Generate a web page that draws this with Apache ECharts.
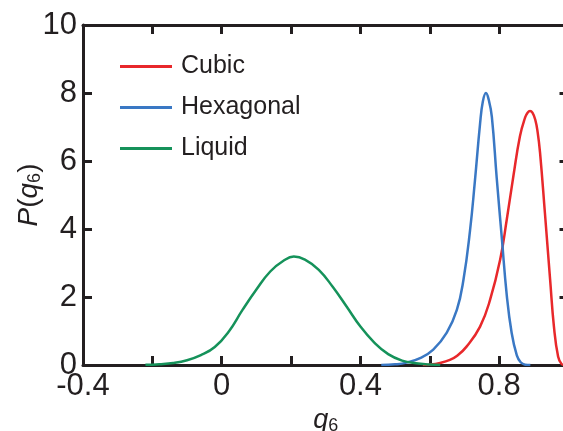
<!DOCTYPE html>
<html>
<head>
<meta charset="utf-8">
<script src="https://cdn.jsdelivr.net/npm/echarts@6/dist/echarts.min.js"></script>
<style>html,body{margin:0;padding:0;background:#fff;overflow:hidden;}#c{width:563px;height:431px;}</style>
</head>
<body>
<div id="c"></div>
<script>
// Data
const seriesNames = ['Cubic', 'Hexagonal', 'Liquid'];
const cubic = [
  [0.58, 0], [0.60, 0.01], [0.63, 0.06], [0.658, 0.15], [0.68, 0.28], [0.706, 0.54],
  [0.745, 1.13], [0.774, 1.92], [0.803, 3.1], [0.822, 4.28], [0.841, 5.55], [0.86, 6.73],
  [0.875, 7.28], [0.882, 7.42], [0.889, 7.47], [0.896, 7.42], [0.904, 7.22], [0.911, 6.85],
  [0.918, 6.24], [0.932, 4.47], [0.947, 2.51], [0.958, 1.13], [0.97, 0.25], [0.98, 0.03], [0.99, 0]
];
const hexagonal = [
  [0.46, 0], [0.5, 0.02], [0.533, 0.07], [0.572, 0.2], [0.61, 0.45], [0.649, 0.95],
  [0.678, 1.62], [0.697, 2.5], [0.716, 3.95], [0.73, 5.4], [0.745, 7.1], [0.753, 7.75],
  [0.762, 8.0], [0.77, 7.8], [0.779, 7.3], [0.793, 5.5], [0.808, 3.7], [0.822, 2.05],
  [0.836, 0.95], [0.851, 0.28], [0.862, 0.08], [0.875, 0.01], [0.89, 0]
];
const liquid = [
  [-0.22, 0.005], [-0.18, 0.025], [-0.14, 0.06], [-0.10, 0.14], [-0.06, 0.29], [-0.02, 0.53],
  [0.02, 0.98], [0.06, 1.62], [0.10, 2.22], [0.14, 2.75], [0.18, 3.08], [0.208, 3.19],
  [0.24, 3.1], [0.28, 2.8], [0.32, 2.3], [0.36, 1.72], [0.40, 1.13], [0.44, 0.66],
  [0.48, 0.32], [0.52, 0.13], [0.56, 0.05], [0.60, 0.015], [0.63, 0]
];
const xTickLabels = ['-0.4', '0', '0.4', '0.8'];
const yTickLabels = ['0', '2', '4', '6', '8', '10'];

const colors = ['#e8282b', '#3a78c4', '#15925a'];
const ink = '#231f20';
const fontFamily = 'Liberation Sans, Arial, sans-serif';

function xLabel(v) {
  const s = (Math.round(v * 10) / 10).toString();
  return xTickLabels.indexOf(s) >= 0 ? s : '';
}
function yLabel(v) {
  const s = String(Math.round(v));
  return yTickLabels.indexOf(s) >= 0 ? s : '';
}

const axisLine = { show: true, onZero: false, lineStyle: { color: ink, width: 3 } };
const axisTick = { show: true, inside: true, length: 9, lineStyle: { color: ink, width: 3 } };

const chart = echarts.init(document.getElementById('c'));
chart.setOption({
  animation: false,
  backgroundColor: '#fff',
  grid: { left: 83, top: 25, width: 485.5, height: 340, containLabel: false, outerBoundsMode: 'none' },
  legend: {
    orient: 'vertical', left: 120, top: 54, padding: 0, itemWidth: 52, itemHeight: 3, itemGap: 16,
    icon: 'rect',
    data: seriesNames,
    textStyle: { fontSize: 25, color: ink, fontFamily: fontFamily, padding: [0, 0, 0, 4] }
  },
  xAxis: [{
    type: 'value', min: -0.4, max: 1.0, interval: 0.2, position: 'bottom',
    axisLine: axisLine, axisTick: axisTick, splitLine: { show: false },
    axisLabel: { formatter: xLabel, fontSize: 31, color: ink, fontFamily: fontFamily, margin: 6 },
    name: '{i|q}{s|6}', nameLocation: 'middle', nameGap: 34,
    nameTextStyle: { rich: {
      i: { fontSize: 27, fontStyle: 'italic', color: ink, fontFamily: fontFamily },
      s: { fontSize: 18, color: ink, fontFamily: fontFamily, verticalAlign: 'bottom', padding: [12, 0, 0, 0] }
    } }
  }, {
    type: 'value', min: -0.4, max: 1.0, interval: 0.2, position: 'top',
    axisLine: axisLine, axisTick: axisTick, splitLine: { show: false }, axisLabel: { show: false }
  }],
  yAxis: [{
    type: 'value', min: 0, max: 10, interval: 2, position: 'left',
    axisLine: axisLine, axisTick: axisTick, splitLine: { show: false },
    axisLabel: { formatter: yLabel, fontSize: 31, color: ink, fontFamily: fontFamily, margin: 6 },
    name: '{i|P}{n|(}{i|q}{s|6}{n|)}', nameLocation: 'middle', nameGap: 39, nameRotate: 90,
    nameMoveOverlap: false,
    nameTextStyle: { rich: {
      i: { fontSize: 28, fontStyle: 'italic', color: ink, fontFamily: fontFamily },
      n: { fontSize: 28, color: ink, fontFamily: fontFamily },
      s: { fontSize: 18, color: ink, fontFamily: fontFamily, verticalAlign: 'bottom', padding: [12, 0, 0, 0] }
    } }
  }, {
    type: 'value', min: 0, max: 10, interval: 2, position: 'right',
    axisLine: axisLine, axisTick: axisTick, splitLine: { show: false }, axisLabel: { show: false }
  }],
  series: [
    { name: seriesNames[0], type: 'line', data: cubic, smooth: 0.45, showSymbol: false, symbol: 'none', color: colors[0], lineStyle: { width: 2.5, color: colors[0] }, z: 3 },
    { name: seriesNames[1], type: 'line', data: hexagonal, smooth: 0.45, showSymbol: false, symbol: 'none', color: colors[1], lineStyle: { width: 2.5, color: colors[1] }, z: 3 },
    { name: seriesNames[2], type: 'line', data: liquid, smooth: 0.45, showSymbol: false, symbol: 'none', color: colors[2], lineStyle: { width: 2.5, color: colors[2] }, z: 3 }
  ]
});
</script>
</body>
</html>
